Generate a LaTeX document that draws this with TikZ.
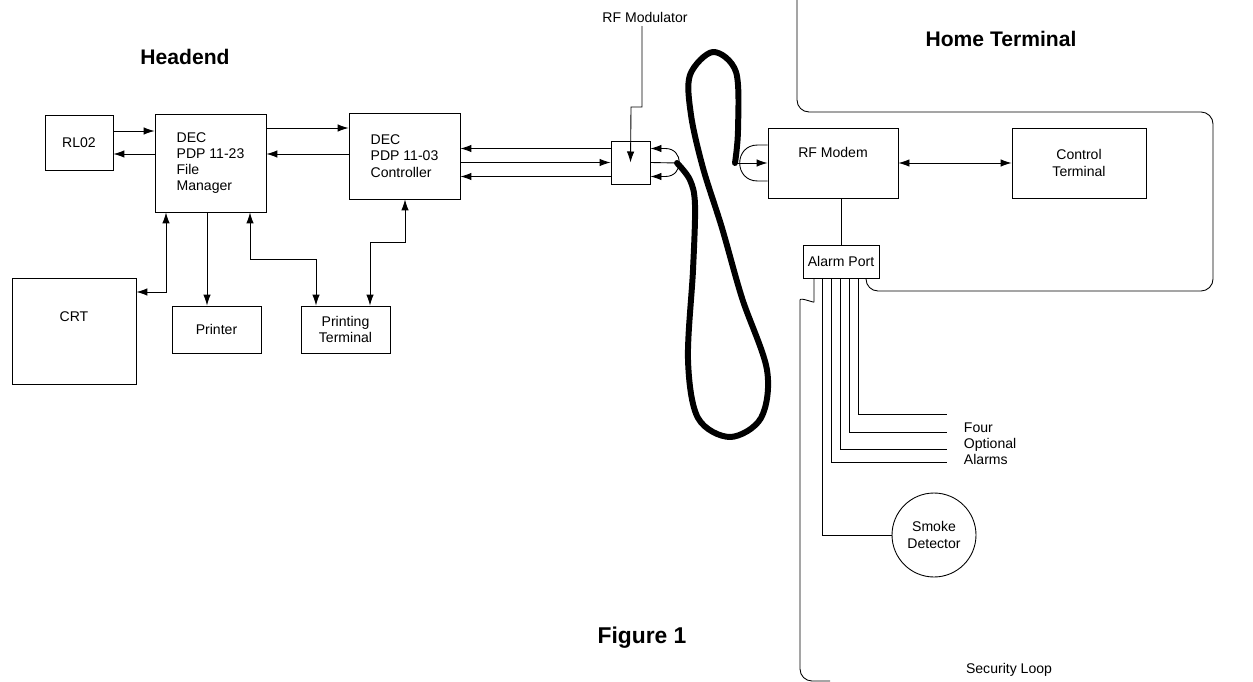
\documentclass[tikz,border=0pt]{standalone}
\usepackage{fontspec}
\setmainfont{Liberation Sans}
\usepackage{tikz}
\usetikzlibrary{arrows.meta,positioning,calc}

\begin{document}
\begin{tikzpicture}[x=0.02cm,y=-0.02cm,line width=0.5pt,
          >={Latex[length=2.2mm,width=1.5mm]},
          box/.style={draw,inner sep=2pt,align=center,
                      font=\fontsize{8}{9.2}\selectfont},
          lbl/.style={inner sep=2pt,font=\fontsize{8}{9.2}\selectfont},
          hdr/.style={font=\fontsize{12}{14}\selectfont\bfseries},
          cable/.style={line width=3.4pt,line cap=round,line join=round}]
  \useasboundingbox (0,0) rectangle (1253,682);
  % headend side
  \node[hdr] (headend) at (185,57) {Headend};
  \node[box,minimum width=1.36cm,minimum height=1.1cm] (rl02) at (79,142.5) {RL02};
  \node[box,align=left,minimum width=2.22cm,minimum height=1.96cm] (fm) at (210.5,163)
    {DEC\\PDP 11-23\\File\\Manager};
  \node[box,align=left,minimum width=2.22cm,minimum height=1.72cm] (ctrl) at (404.5,156)
    {DEC\\PDP 11-03\\Controller};
  \node[box,minimum width=2.48cm,minimum height=2.12cm,
        label={[lbl,anchor=center,yshift=-0.78cm]north:CRT}] (crt) at (74,331) {};
  \node[box,minimum width=1.78cm,minimum height=0.94cm] (printer) at (216.5,329.5) {Printer};
  \node[box,minimum width=1.78cm,minimum height=0.94cm] (pterm) at (345.5,329.5)
    {Printing\\Terminal};
  \node[box,minimum width=0.78cm,minimum height=0.86cm] (rfmod) at (630.5,162.5) {};
  \node[lbl] (rfmodlbl) at (645,17) {RF Modulator};

  \draw[->] ([yshift=0.23cm]rl02.east) -- ([yshift=0.23cm]rl02.east -| fm.west);
  \draw[->] ([yshift=-0.23cm]rl02.east -| fm.west) -- ([yshift=-0.23cm]rl02.east);
  \draw[->] ([yshift=0.7cm]fm.east) -- ([yshift=0.7cm]fm.east -| ctrl.west);
  \draw[->] ([yshift=0.18cm]fm.east -| ctrl.west) -- ([yshift=0.18cm]fm.east);
  \draw[<->] (fm.south -| 166,0) |- (crt.east |- 0,292);
  \draw[->] (fm.south -| 207,0) -- (printer.north -| 207,0);
  \draw[<->] (fm.south -| 250,0) |- (316,259) -- (pterm.north -| 316,0);
  \draw[<->] (ctrl.south -| 405,0) |- (370,242) -- (pterm.north -| 370,0);
  \draw[->] ([yshift=0.28cm]rfmod.west) -- ([yshift=0.28cm]rfmod.west -| ctrl.east);
  \draw[->] (ctrl.east |- rfmod.west) -- (rfmod.west);
  \draw[->] ([yshift=-0.28cm]rfmod.west) -- ([yshift=-0.28cm]rfmod.west -| ctrl.east);
  \draw[->] ([xshift=-0.06cm]rfmodlbl.south) |- (631,107) -- (rfmod.center);
  \draw[<->] ([yshift=0.28cm]rfmod.east) -- ([xshift=0.3cm,yshift=0.28cm]rfmod.east)
    to[out=0,in=0,looseness=1.7] ([xshift=0.3cm,yshift=-0.28cm]rfmod.east)
    -- ([yshift=-0.28cm]rfmod.east);

  % cable
  \coordinate (cin) at (677,163);
  \coordinate (cout) at (735,163);
  \draw (rfmod.east) -- (cin);
  \draw[cable] plot[smooth,tension=0.55] coordinates {(677,163) (690,180) (695,205)
    (693,270) (688,360) (698,418) (730,437) (761,418) (767,370) (742,298) (722,228)
    (703,168) (691,115) (690,75) (713,52) (736,72) (738,130) (735,163)};

  % home terminal side
  \node[hdr] (home) at (1001,39) {Home Terminal};
  \node[box,minimum width=2.6cm,minimum height=1.4cm,
        label={[lbl,anchor=center,yshift=-0.5cm]north:RF Modem}] (modem) at (833,163) {};
  \node[box,minimum width=2.68cm,minimum height=1.4cm] (ct) at (1079,163)
    {Control\\Terminal};
  \node[box,minimum width=1.52cm,minimum height=0.66cm] (aport) at (841,261.5) {Alarm Port};
  \node[box,circle,minimum size=1.68cm] (smoke) at (934,535) {Smoke\\Detector};
  \node[lbl,align=left,anchor=west] (opt) at (960,444) {Four\\Optional\\Alarms};
  \node[lbl] (secloop) at (1009,670) {Security Loop};
  \node[font=\fontsize{13}{15}\selectfont\bfseries] (fig) at (642,638) {Figure 1};

  \draw[->] (cout) -- (modem.west);
  \draw ([yshift=0.36cm]modem.west) -- ([xshift=-0.2cm,yshift=0.36cm]modem.west)
    to[out=180,in=180,looseness=1.7] ([xshift=-0.2cm,yshift=-0.36cm]modem.west)
    -- ([yshift=-0.36cm]modem.west);
  \draw[<->] (modem.east) -- (ct.west);
  \draw (modem.south -| aport.north) -- (aport.north);
  \coordinate (alarmend) at (947,0);
  \foreach \x/\y in {858/414,849/432,840/449,831/462}
    \draw (aport.south -| \x,0) |- (alarmend |- 0,\y);
  \draw (aport.south -| 822,0) |- (smoke.west);
  \draw[rounded corners=0.24cm] (aport.south -| 866,0) -- (866,291) -- (1213,291)
    -- (1213,112) -- (797,112) -- (797,0);
  \draw[rounded corners=0.24cm] (aport.south -| 814,0) -- (814,290)
    .. controls (814,303) and (800,297) .. (800,312) -- (800,681) -- (830,681);
\end{tikzpicture}
\end{document}
